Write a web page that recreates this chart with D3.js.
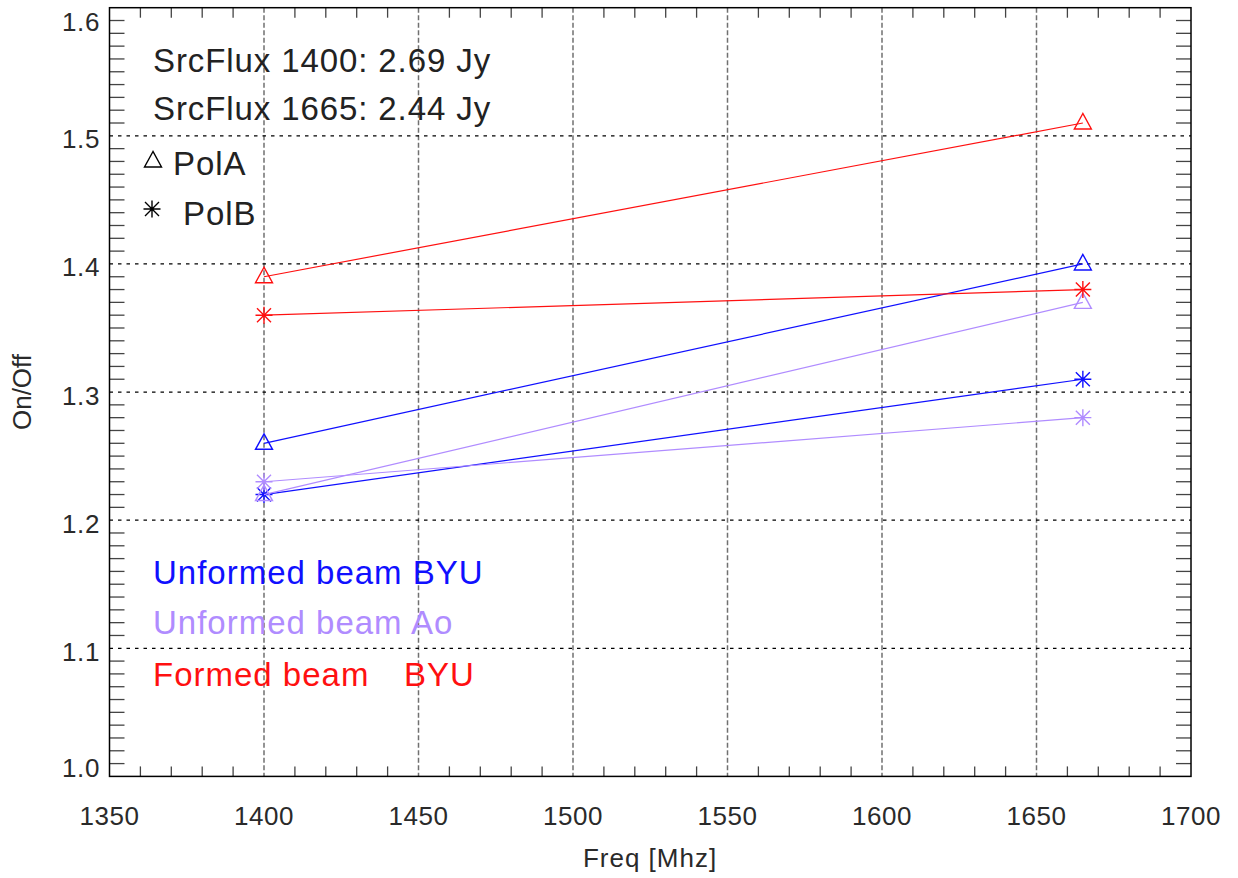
<!DOCTYPE html>
<html>
<head>
<meta charset="utf-8">
<script src="https://cdn.jsdelivr.net/npm/d3@7"></script>
<style>
  html, body { margin: 0; padding: 0; background: #fff; }
  svg { display: block; font-family: "Liberation Sans", Arial, Helvetica, sans-serif; }
</style>
</head>
<body>
<svg id="chart" width="1238" height="878"></svg>
<script>
// ---- data ----
const freqs = [1400, 1665];
const xTicks = [1350, 1400, 1450, 1500, 1550, 1600, 1650, 1700];
const yTicks = [1.0, 1.1, 1.2, 1.3, 1.4, 1.5, 1.6];
const unformedBYU_PolA = [1.26, 1.40];
const unformedBYU_PolB = [1.22, 1.31];
const unformedAo_PolA  = [1.22, 1.37];
const unformedAo_PolB  = [1.23, 1.28];
const formedBYU_PolA   = [1.39, 1.51];
const formedBYU_PolB   = [1.36, 1.38];
const srcFluxLabels = ["SrcFlux 1400: 2.69 Jy", "SrcFlux 1665: 2.44 Jy"];
const seriesNames = ["Unformed beam BYU", "Unformed beam Ao", "Formed beam"];

const colBlue = "#1010ff", colPurple = "#b08cff", colRed = "#ff1010";
const series = [
  {vals: unformedBYU_PolA, color: colBlue, sym: "tri"},
  {vals: unformedBYU_PolB, color: colBlue, sym: "star"},
  {vals: unformedAo_PolA, color: colPurple, sym: "tri"},
  {vals: unformedAo_PolB, color: colPurple, sym: "star"},
  {vals: formedBYU_PolA, color: colRed, sym: "tri"},
  {vals: formedBYU_PolB, color: colRed, sym: "star"}
];

const svg = d3.select("#chart");
const L = 109.5, R = 1191, T = 7.7, B = 776.4;
const x = d3.scaleLinear().domain([1350, 1700]).range([L, R]);
const y = d3.scaleLinear().domain([1.0, 1.6]).range([B, T]);

// gridlines
const g = svg.append("g");
g.selectAll(".vg").data(xTicks.slice(1, -1)).join("line")
  .attr("x1", d => x(d)).attr("x2", d => x(d)).attr("y1", T).attr("y2", B)
  .attr("stroke", "#707070").attr("stroke-width", 1.5).attr("stroke-dasharray", "5,2.5");
g.selectAll(".hg").data(yTicks.slice(1, -1)).join("line")
  .attr("x1", L).attr("x2", R).attr("y1", d => y(d)).attr("y2", d => y(d))
  .attr("stroke", "#000").attr("stroke-width", 1.3).attr("stroke-dasharray", "3.5,5");

// minor ticks
const xMinor = d3.range(1350, 1701, 10).filter(v => v % 50 !== 0);
const yMinor = d3.range(0, 61).map(i => 1 + i / 100).filter((v, i) => i % 10 !== 0);
const tk = svg.append("g").attr("stroke", "#444").attr("stroke-width", 1.3);
tk.selectAll(".xb").data(xMinor).join("line")
  .attr("x1", d => x(d)).attr("x2", d => x(d)).attr("y1", B).attr("y2", B - 10);
tk.selectAll(".xt").data(xMinor).join("line")
  .attr("x1", d => x(d)).attr("x2", d => x(d)).attr("y1", T).attr("y2", T + 10);
tk.selectAll(".yl").data(yMinor).join("line")
  .attr("y1", d => y(d)).attr("y2", d => y(d)).attr("x1", L).attr("x2", L + 15);
tk.selectAll(".yr").data(yMinor).join("line")
  .attr("y1", d => y(d)).attr("y2", d => y(d)).attr("x1", R).attr("x2", R - 15);

// frame
svg.append("rect").attr("x", L).attr("y", T).attr("width", R - L).attr("height", B - T)
  .attr("fill", "none").attr("stroke", "#000").attr("stroke-width", 1.5);

// tick labels
svg.append("g").selectAll("text").data(xTicks).join("text")
  .attr("x", d => x(d)).attr("y", 825).attr("text-anchor", "middle")
  .attr("font-size", 26).attr("letter-spacing", 0.6).attr("fill", "#2a2a2a")
  .text(d => d);
svg.append("g").selectAll("text").data(yTicks).join("text")
  .attr("x", 100).attr("text-anchor", "end")
  .attr("y", (d, i) => y(d) + (i === 0 ? 0.5 : (i === yTicks.length - 1 ? 23 : 12.5)))
  .attr("font-size", 26).attr("letter-spacing", 0.6).attr("fill", "#2a2a2a")
  .text(d => d3.format(".1f")(d));

// axis titles
svg.append("text").attr("x", 650).attr("y", 867).attr("text-anchor", "middle")
  .attr("font-size", 26).attr("letter-spacing", 1).attr("fill", "#2a2a2a").text("Freq [Mhz]");
svg.append("text").attr("transform", "translate(31,392) rotate(-90)").attr("text-anchor", "middle")
  .attr("font-size", 26).attr("fill", "#2a2a2a").text("On/Off");

// symbols
function drawSym(sel, sym, cx, cy, color) {
  if (sym === "tri") {
    sel.append("path").attr("d", `M${cx},${cy - 9.5}L${cx - 8.5},${cy + 6}L${cx + 8.5},${cy + 6}Z`)
      .attr("fill", "none").attr("stroke", color).attr("stroke-width", 1.4);
  } else {
    const a = 8.5, b = 7;
    sel.append("path").attr("d",
      `M${cx - a},${cy}L${cx + a},${cy}M${cx},${cy - a}L${cx},${cy + a}` +
      `M${cx - b},${cy - b}L${cx + b},${cy + b}M${cx - b},${cy + b}L${cx + b},${cy - b}`)
      .attr("fill", "none").attr("stroke", color).attr("stroke-width", 1.4);
  }
}

// data lines and markers
const line = d3.line().x(d => x(d[0])).y(d => y(d[1]));
const dg = svg.append("g");
series.forEach(s => {
  const pts = freqs.map((f, i) => [f, s.vals[i]]);
  dg.append("path").attr("d", line(pts)).attr("fill", "none")
    .attr("stroke", s.color).attr("stroke-width", 1.2);
  pts.forEach(p => drawSym(dg, s.sym, x(p[0]), y(p[1]), s.color));
});

// annotations
const ann = svg.append("g").attr("font-size", 33).attr("letter-spacing", 0.9).attr("fill", "#222");
ann.append("text").attr("x", 153).attr("y", 72).text(srcFluxLabels[0]);
ann.append("text").attr("x", 153).attr("y", 120).text(srcFluxLabels[1]);
ann.append("text").attr("x", 173).attr("y", 175).text("PolA");
ann.append("text").attr("x", 183).attr("y", 225).text("PolB");
drawSym(svg, "tri", 153, 161, "#000");
drawSym(svg, "star", 152, 209, "#000");

const leg = svg.append("g").attr("font-size", 33).attr("letter-spacing", 1.0);
leg.append("text").attr("x", 153).attr("y", 584).attr("fill", colBlue).text(seriesNames[0]);
leg.append("text").attr("x", 153).attr("y", 634).attr("fill", colPurple).text(seriesNames[1]);
const ft = leg.append("text").attr("x", 153).attr("y", 686).attr("fill", colRed);
ft.append("tspan").text(seriesNames[2]);
ft.append("tspan").attr("x", 404).text("BYU");
</script>
</body>
</html>
